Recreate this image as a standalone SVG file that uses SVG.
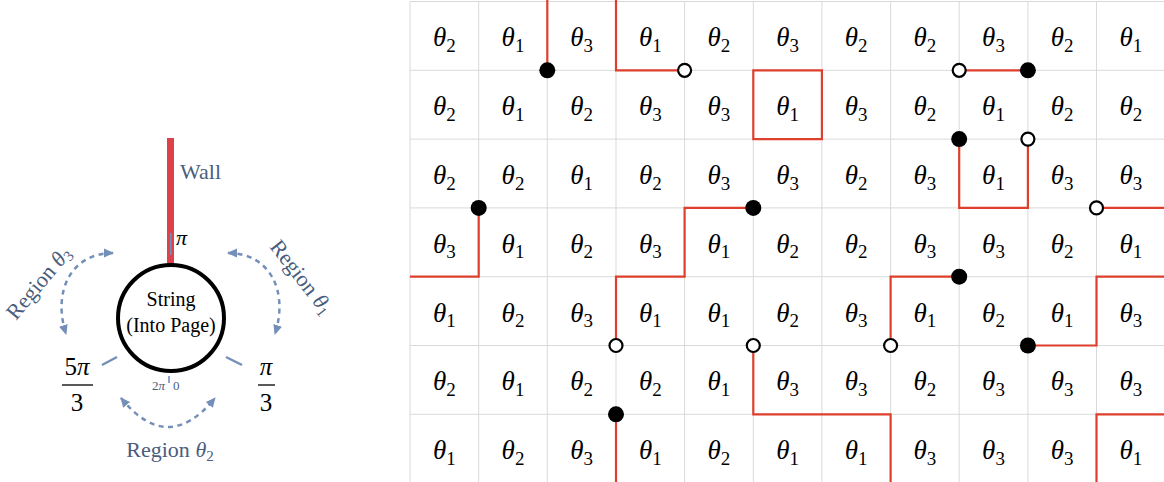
<svg xmlns="http://www.w3.org/2000/svg" width="1164" height="482" viewBox="0 0 1164 482">
<defs>
<style>
.grid{stroke:#d9d9d9;stroke-width:1;fill:none}
.th{font-family:'Liberation Serif','Times New Roman','DejaVu Serif',serif;font-style:italic;font-size:27px;fill:#000;text-anchor:middle}
.s{font-style:normal;font-size:19px}
.wire{stroke:#dd3f2c;stroke-width:2.2;fill:none;stroke-linejoin:miter}
.fd{fill:#000}
.od{fill:#fff;stroke:#000;stroke-width:2.2}
.lab{font-family:'Liberation Serif','Times New Roman','DejaVu Serif',serif;font-size:22px;fill:#4a5d7c}
.blk{font-family:'Liberation Serif','Times New Roman','DejaVu Serif',serif;fill:#000}
.sm{font-family:'Liberation Serif','Times New Roman','DejaVu Serif',serif;font-size:13px;fill:#4a5d7c}
.arc{stroke:#7490b8;stroke-width:2.5;fill:none;stroke-dasharray:5 4.5}
.tick{stroke:#7490b8;stroke-width:2.5}
</style>
<marker id="ah" viewBox="0 0 10 10" refX="9" refY="5" markerWidth="10" markerHeight="10" markerUnits="userSpaceOnUse" orient="auto-start-reverse">
<path d="M0 0.5 L10 5 L0 9.5 Z" fill="#7490b8"/>
</marker>
</defs>
<rect width="1164" height="482" fill="#fff"/>

<g id="left-diagram">
<g id="wall">
<rect x="167" y="138" width="7" height="127" fill="#de4149"/>
<text class="lab" x="180" y="179">Wall</text>
<line x1="170.7" y1="233" x2="170.7" y2="255" stroke="#7490b8" stroke-width="1.6"/>
<text class="blk" x="176" y="245" font-size="22" font-style="italic">π</text>
</g>
<g id="string">
<circle cx="171" cy="318" r="53" fill="#fff" stroke="#000" stroke-width="4"/>
<text class="blk" x="171" y="306" font-size="20" text-anchor="middle">String</text>
<text class="blk" x="171" y="332" font-size="20" text-anchor="middle">(Into Page)</text>
</g>
<g id="angle-ticks">
<line class="tick" x1="102" y1="365" x2="117" y2="357"/>
<line class="tick" x1="226" y1="357" x2="242" y2="365"/>
<line x1="169" y1="376" x2="169" y2="383" stroke="#7490b8" stroke-width="1.6"/>
<text class="sm" x="165" y="390" text-anchor="end">2<tspan font-style="italic">π</tspan></text>
<text class="sm" x="173" y="390">0</text>
<text class="blk" x="77" y="375" font-size="25" text-anchor="middle">5<tspan font-style="italic">π</tspan></text>
<line x1="62" y1="385" x2="93" y2="385" stroke="#000" stroke-width="1.3"/>
<text class="blk" x="77" y="411" font-size="25" text-anchor="middle">3</text>
<text class="blk" x="266" y="375" font-size="25" text-anchor="middle" font-style="italic">π</text>
<line x1="258" y1="385" x2="275" y2="385" stroke="#000" stroke-width="1.3"/>
<text class="blk" x="266" y="411" font-size="25" text-anchor="middle">3</text>
</g>
<g id="region-theta3">
<path class="arc" d="M113 253 C72 253 52 290 66 334" marker-start="url(#ah)" marker-end="url(#ah)"/>
<text class="lab" x="16" y="321" font-size="23" transform="rotate(-50 16 321)">Region <tspan font-style="italic">θ</tspan><tspan font-size="15" dy="3.5">3</tspan></text>
</g>
<g id="region-theta1">
<path class="arc" d="M228 253 C269 253 289 290 275 334" marker-start="url(#ah)" marker-end="url(#ah)"/>
<text class="lab" x="269" y="247" font-size="23" transform="rotate(52 269 247)">Region <tspan font-style="italic">θ</tspan><tspan font-size="15" dy="3.5">1</tspan></text>
</g>
<g id="region-theta2">
<path class="arc" d="M121 398 Q168 456 215 398" marker-start="url(#ah)" marker-end="url(#ah)"/>
<text class="lab" x="170" y="457" text-anchor="middle">Region <tspan font-style="italic">θ</tspan><tspan font-size="15" dy="3.5">2</tspan></text>
</g>
</g>

<g id="grid">
<path class="grid" d="M410 1.5V482M478.7 1.5V482M547.3 1.5V482M616 1.5V482M684.6 1.5V482M753.3 1.5V482M821.9 1.5V482M890.6 1.5V482M959.2 1.5V482M1027.9 1.5V482M1096.5 1.5V482M410 1.5H1164M410 70.3H1164M410 139.1H1164M410 207.9H1164M410 276.7H1164M410 345.5H1164M410 414.3H1164"/>
</g>

<g id="cells">
<g id="row0">
<text class="th" x="444.3" y="46.4">θ<tspan class="s" dy="5.5">2</tspan></text>
<text class="th" x="513" y="46.4">θ<tspan class="s" dy="5.5">1</tspan></text>
<text class="th" x="581.6" y="46.4">θ<tspan class="s" dy="5.5">3</tspan></text>
<text class="th" x="650.3" y="46.4">θ<tspan class="s" dy="5.5">1</tspan></text>
<text class="th" x="718.9" y="46.4">θ<tspan class="s" dy="5.5">2</tspan></text>
<text class="th" x="787.6" y="46.4">θ<tspan class="s" dy="5.5">3</tspan></text>
<text class="th" x="856.2" y="46.4">θ<tspan class="s" dy="5.5">2</tspan></text>
<text class="th" x="924.9" y="46.4">θ<tspan class="s" dy="5.5">2</tspan></text>
<text class="th" x="993.5" y="46.4">θ<tspan class="s" dy="5.5">3</tspan></text>
<text class="th" x="1062.2" y="46.4">θ<tspan class="s" dy="5.5">2</tspan></text>
<text class="th" x="1130.8" y="46.4">θ<tspan class="s" dy="5.5">1</tspan></text>
</g>
<g id="row1">
<text class="th" x="444.3" y="115.2">θ<tspan class="s" dy="5.5">2</tspan></text>
<text class="th" x="513" y="115.2">θ<tspan class="s" dy="5.5">1</tspan></text>
<text class="th" x="581.6" y="115.2">θ<tspan class="s" dy="5.5">2</tspan></text>
<text class="th" x="650.3" y="115.2">θ<tspan class="s" dy="5.5">3</tspan></text>
<text class="th" x="718.9" y="115.2">θ<tspan class="s" dy="5.5">3</tspan></text>
<text class="th" x="787.6" y="115.2">θ<tspan class="s" dy="5.5">1</tspan></text>
<text class="th" x="856.2" y="115.2">θ<tspan class="s" dy="5.5">3</tspan></text>
<text class="th" x="924.9" y="115.2">θ<tspan class="s" dy="5.5">2</tspan></text>
<text class="th" x="993.5" y="115.2">θ<tspan class="s" dy="5.5">1</tspan></text>
<text class="th" x="1062.2" y="115.2">θ<tspan class="s" dy="5.5">2</tspan></text>
<text class="th" x="1130.8" y="115.2">θ<tspan class="s" dy="5.5">2</tspan></text>
</g>
<g id="row2">
<text class="th" x="444.3" y="184">θ<tspan class="s" dy="5.5">2</tspan></text>
<text class="th" x="513" y="184">θ<tspan class="s" dy="5.5">2</tspan></text>
<text class="th" x="581.6" y="184">θ<tspan class="s" dy="5.5">1</tspan></text>
<text class="th" x="650.3" y="184">θ<tspan class="s" dy="5.5">2</tspan></text>
<text class="th" x="718.9" y="184">θ<tspan class="s" dy="5.5">3</tspan></text>
<text class="th" x="787.6" y="184">θ<tspan class="s" dy="5.5">3</tspan></text>
<text class="th" x="856.2" y="184">θ<tspan class="s" dy="5.5">2</tspan></text>
<text class="th" x="924.9" y="184">θ<tspan class="s" dy="5.5">3</tspan></text>
<text class="th" x="993.5" y="184">θ<tspan class="s" dy="5.5">1</tspan></text>
<text class="th" x="1062.2" y="184">θ<tspan class="s" dy="5.5">3</tspan></text>
<text class="th" x="1130.8" y="184">θ<tspan class="s" dy="5.5">3</tspan></text>
</g>
<g id="row3">
<text class="th" x="444.3" y="252.8">θ<tspan class="s" dy="5.5">3</tspan></text>
<text class="th" x="513" y="252.8">θ<tspan class="s" dy="5.5">1</tspan></text>
<text class="th" x="581.6" y="252.8">θ<tspan class="s" dy="5.5">2</tspan></text>
<text class="th" x="650.3" y="252.8">θ<tspan class="s" dy="5.5">3</tspan></text>
<text class="th" x="718.9" y="252.8">θ<tspan class="s" dy="5.5">1</tspan></text>
<text class="th" x="787.6" y="252.8">θ<tspan class="s" dy="5.5">2</tspan></text>
<text class="th" x="856.2" y="252.8">θ<tspan class="s" dy="5.5">2</tspan></text>
<text class="th" x="924.9" y="252.8">θ<tspan class="s" dy="5.5">3</tspan></text>
<text class="th" x="993.5" y="252.8">θ<tspan class="s" dy="5.5">3</tspan></text>
<text class="th" x="1062.2" y="252.8">θ<tspan class="s" dy="5.5">2</tspan></text>
<text class="th" x="1130.8" y="252.8">θ<tspan class="s" dy="5.5">1</tspan></text>
</g>
<g id="row4">
<text class="th" x="444.3" y="321.6">θ<tspan class="s" dy="5.5">1</tspan></text>
<text class="th" x="513" y="321.6">θ<tspan class="s" dy="5.5">2</tspan></text>
<text class="th" x="581.6" y="321.6">θ<tspan class="s" dy="5.5">3</tspan></text>
<text class="th" x="650.3" y="321.6">θ<tspan class="s" dy="5.5">1</tspan></text>
<text class="th" x="718.9" y="321.6">θ<tspan class="s" dy="5.5">1</tspan></text>
<text class="th" x="787.6" y="321.6">θ<tspan class="s" dy="5.5">2</tspan></text>
<text class="th" x="856.2" y="321.6">θ<tspan class="s" dy="5.5">3</tspan></text>
<text class="th" x="924.9" y="321.6">θ<tspan class="s" dy="5.5">1</tspan></text>
<text class="th" x="993.5" y="321.6">θ<tspan class="s" dy="5.5">2</tspan></text>
<text class="th" x="1062.2" y="321.6">θ<tspan class="s" dy="5.5">1</tspan></text>
<text class="th" x="1130.8" y="321.6">θ<tspan class="s" dy="5.5">3</tspan></text>
</g>
<g id="row5">
<text class="th" x="444.3" y="390.4">θ<tspan class="s" dy="5.5">2</tspan></text>
<text class="th" x="513" y="390.4">θ<tspan class="s" dy="5.5">1</tspan></text>
<text class="th" x="581.6" y="390.4">θ<tspan class="s" dy="5.5">2</tspan></text>
<text class="th" x="650.3" y="390.4">θ<tspan class="s" dy="5.5">2</tspan></text>
<text class="th" x="718.9" y="390.4">θ<tspan class="s" dy="5.5">1</tspan></text>
<text class="th" x="787.6" y="390.4">θ<tspan class="s" dy="5.5">3</tspan></text>
<text class="th" x="856.2" y="390.4">θ<tspan class="s" dy="5.5">3</tspan></text>
<text class="th" x="924.9" y="390.4">θ<tspan class="s" dy="5.5">2</tspan></text>
<text class="th" x="993.5" y="390.4">θ<tspan class="s" dy="5.5">3</tspan></text>
<text class="th" x="1062.2" y="390.4">θ<tspan class="s" dy="5.5">3</tspan></text>
<text class="th" x="1130.8" y="390.4">θ<tspan class="s" dy="5.5">3</tspan></text>
</g>
<g id="row6">
<text class="th" x="444.3" y="459.2">θ<tspan class="s" dy="5.5">1</tspan></text>
<text class="th" x="513" y="459.2">θ<tspan class="s" dy="5.5">2</tspan></text>
<text class="th" x="581.6" y="459.2">θ<tspan class="s" dy="5.5">3</tspan></text>
<text class="th" x="650.3" y="459.2">θ<tspan class="s" dy="5.5">1</tspan></text>
<text class="th" x="718.9" y="459.2">θ<tspan class="s" dy="5.5">2</tspan></text>
<text class="th" x="787.6" y="459.2">θ<tspan class="s" dy="5.5">1</tspan></text>
<text class="th" x="856.2" y="459.2">θ<tspan class="s" dy="5.5">1</tspan></text>
<text class="th" x="924.9" y="459.2">θ<tspan class="s" dy="5.5">3</tspan></text>
<text class="th" x="993.5" y="459.2">θ<tspan class="s" dy="5.5">3</tspan></text>
<text class="th" x="1062.2" y="459.2">θ<tspan class="s" dy="5.5">3</tspan></text>
<text class="th" x="1130.8" y="459.2">θ<tspan class="s" dy="5.5">1</tspan></text>
</g>
</g>

<g id="connectors">
<path class="wire" d="M547.3 0V70.3"/>
<path class="wire" d="M616 0V70.3H684.6"/>
<path class="wire" d="M753.3 70.3H821.9V139.1H753.3Z"/>
<path class="wire" d="M959.2 70.3H1027.9"/>
<path class="wire" d="M959.2 139.1V207.9H1027.9V139.1"/>
<path class="wire" d="M478.7 207.9V276.7H410"/>
<path class="wire" d="M753.3 207.9H684.6V276.7H616V345.5"/>
<path class="wire" d="M1096.5 207.9H1165"/>
<path class="wire" d="M959.2 276.7H890.6V345.5"/>
<path class="wire" d="M1027.9 345.5H1096.5V276.7H1165"/>
<path class="wire" d="M753.3 345.5V414.3H890.6V483"/>
<path class="wire" d="M616 414.3V483"/>
<path class="wire" d="M1165 414.3H1096.5V483"/>
</g>

<g id="junctions">
<circle class="fd" cx="547.3" cy="70.3" r="8"/>
<circle class="fd" cx="1027.9" cy="70.3" r="8"/>
<circle class="fd" cx="959.2" cy="139.1" r="8"/>
<circle class="fd" cx="478.7" cy="207.9" r="8"/>
<circle class="fd" cx="753.3" cy="207.9" r="8"/>
<circle class="fd" cx="959.2" cy="276.7" r="8"/>
<circle class="fd" cx="1027.9" cy="345.5" r="8"/>
<circle class="fd" cx="616" cy="414.3" r="8"/>
<circle class="od" cx="684.6" cy="70.3" r="6.5"/>
<circle class="od" cx="959.2" cy="70.3" r="6.5"/>
<circle class="od" cx="1027.9" cy="139.1" r="6.5"/>
<circle class="od" cx="1096.5" cy="207.9" r="6.5"/>
<circle class="od" cx="616" cy="345.5" r="6.5"/>
<circle class="od" cx="753.3" cy="345.5" r="6.5"/>
<circle class="od" cx="890.6" cy="345.5" r="6.5"/>
</g>
</svg>
